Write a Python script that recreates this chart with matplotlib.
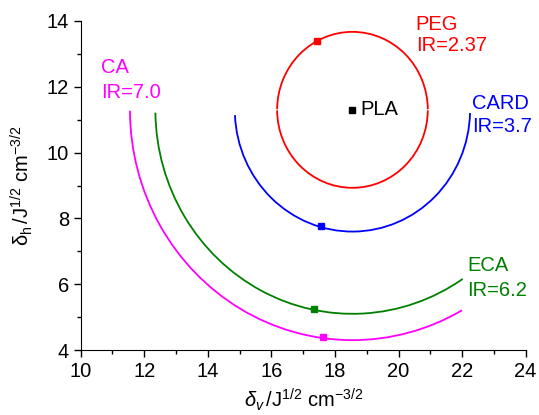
import matplotlib
matplotlib.use("Agg")
import matplotlib.pyplot as plt
from matplotlib.patches import Arc
from matplotlib.ticker import MultipleLocator

# ---- data ----
center_x, center_y = 18.55, 11.3          # PLA
names   = ["PEG", "CARD", "ECA", "CA"]
ir_text = ["IR=2.37", "IR=3.7", "IR=6.2", "IR=7.0"]
radii   = [2.37, 3.7, 6.2, 7.0]
colors  = ["#ff0000", "#0000ff", "#008000", "#ff00ff"]
# arc segments (start, end angle in degrees) for each series
arc_segments = [
    [(0.4, 179.6), (180.4, 359.6)],   # PEG (nearly full circle)
    [(182.5, 358.5)],                 # CARD
    [(180.8, 304.0)],                 # ECA
    [(180.2, 299.5)],                 # CA
]
point_x = [17.42, 17.56, 17.34, 17.61]
point_y = [13.39, 7.76, 5.26, 4.40]
label_pos = [(20.54, 13.9, 13.25), (22.3, 11.5, 10.8),
             (22.17, 6.58, 5.8), (10.64, 12.6, 11.84)]

plt.rcParams["font.family"] = ["Liberation Sans", "DejaVu Sans"]
plt.rcParams["mathtext.fontset"] = "custom"
plt.rcParams["mathtext.rm"] = "Liberation Sans"
plt.rcParams["mathtext.it"] = "Liberation Sans:italic"
plt.rcParams["mathtext.bf"] = "Liberation Sans:bold"

fig = plt.figure(figsize=(5.39, 4.15), dpi=100)
ax = fig.add_axes([0.1497, 0.1566, 0.8256, 0.7928])

for segs, r, c in zip(arc_segments, radii, colors):
    for t1, t2 in segs:
        ax.add_patch(Arc((center_x, center_y), 2 * r, 2 * r, theta1=t1, theta2=t2,
                         color=c, lw=1.3))

for px, py, c in zip(point_x, point_y, colors):
    ax.plot(px, py, marker="s", color=c, ms=5, ls="none")
ax.plot(center_x, center_y, marker="s", color="black", ms=5, ls="none")
ax.text(center_x + 0.25, center_y, "PLA", fontsize=14.5, va="center", ha="left")

for n, t, (lx, ly1, ly2), c in zip(names, ir_text, label_pos, colors):
    ax.text(lx, ly1, n, color=c, fontsize=14.5, va="center", ha="left")
    ax.text(lx, ly2, t, color=c, fontsize=14.5, va="center", ha="left")

ax.set_xlim(10, 24)
ax.set_ylim(4, 14)
ax.xaxis.set_major_locator(MultipleLocator(2))
ax.xaxis.set_minor_locator(MultipleLocator(1))
ax.yaxis.set_major_locator(MultipleLocator(2))
ax.yaxis.set_minor_locator(MultipleLocator(1))
for s in ["top", "right"]:
    ax.spines[s].set_visible(False)
ax.tick_params(which="major", direction="out", length=5, width=1, labelsize=14.5)
ax.tick_params(which="minor", direction="out", length=3, width=1)

ax.set_xlabel(r"$\delta_v\,/\mathrm{J}^{1/2}\ \mathrm{cm}^{-3/2}$", fontsize=14.5, labelpad=4)
ax.set_ylabel(r"$\mathrm{\delta}_\mathrm{h}\,/\mathrm{J}^{1/2}\ \mathrm{cm}^{-3/2}$", fontsize=14.5, labelpad=8)

fig.savefig("out.png", dpi=100)
